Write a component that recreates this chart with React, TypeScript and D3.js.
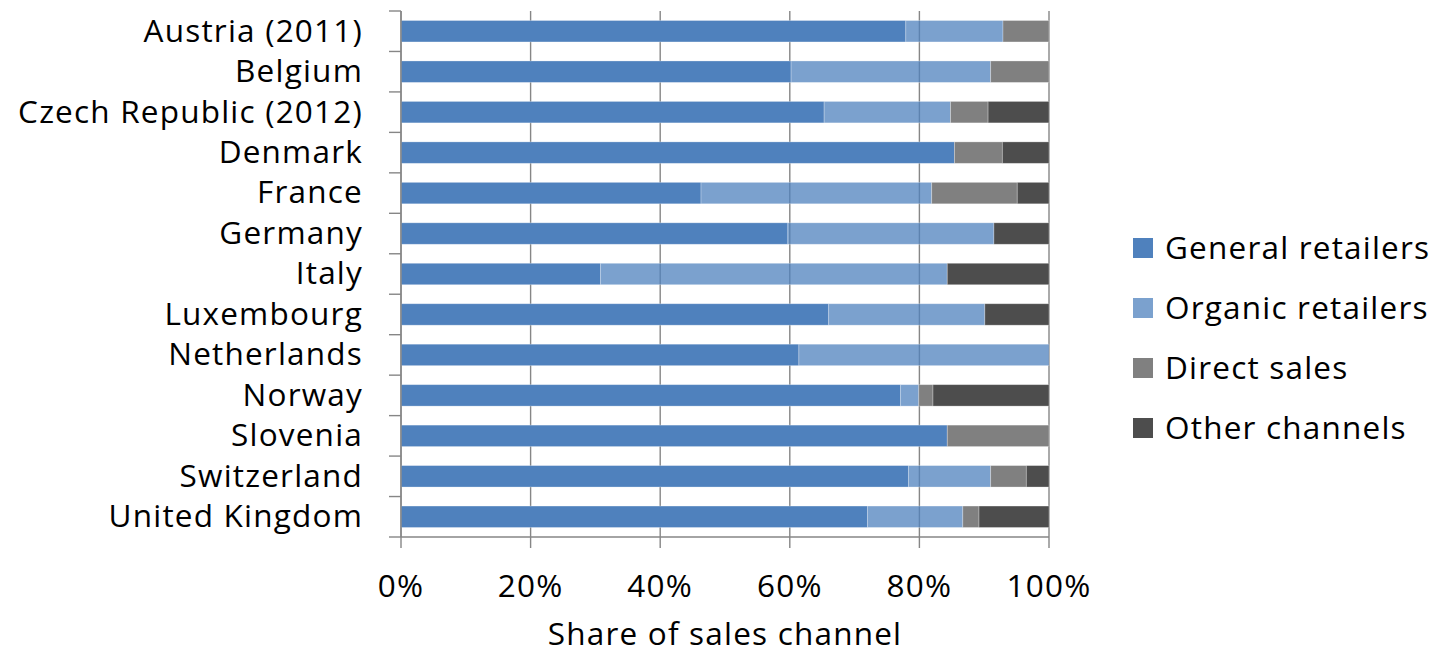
import React from 'react';
import * as d3 from 'd3';

const countries = [
  'Austria (2011)', 'Belgium', 'Czech Republic (2012)', 'Denmark', 'France', 'Germany', 'Italy',
  'Luxembourg', 'Netherlands', 'Norway', 'Slovenia', 'Switzerland', 'United Kingdom',
];
const generalRetailers = [77.9, 60.2, 65.3, 85.4, 46.3, 59.7, 30.8, 66.0, 61.4, 77.1, 84.3, 78.3, 72.0];
const organicRetailers = [15.0, 30.8, 19.5, 0, 35.6, 31.8, 53.5, 24.1, 38.6, 2.8, 0, 12.7, 14.7];
const directSales = [7.1, 9.0, 5.8, 7.4, 13.2, 0, 0, 0, 0, 2.2, 15.7, 5.5, 2.5];
const otherChannels = [0, 0, 9.4, 7.2, 4.9, 8.5, 15.7, 9.9, 0, 17.9, 0, 3.5, 10.8];
const xTicks = [0, 20, 40, 60, 80, 100];

const seriesNames = ['General retailers', 'Organic retailers', 'Direct sales', 'Other channels'];
const seriesFill = ['#4F81BD', '#4F81BD', '#808080', '#4D4D4D'];
const seriesOpacity = [1, 0.75, 1, 1];

const W = 1432;
const H = 655;
const FONT = '"Open Sans", Lato, sans-serif';
const FS = 31.5;
const LS = 1.2;

const App: React.FC = () => {
  const left = 401;
  const right = 1049;
  const top = 11;
  const bottom = 537;

  const x = d3.scaleLinear().domain([0, 100]).range([left, right]);
  const y = d3.scaleBand<string>().domain(countries).range([top, bottom]).paddingInner(0.47).paddingOuter(0.235);
  const band = d3.scaleBand<string>().domain(countries).range([top, bottom]);

  const rows = countries.map((c, i) => ({
    country: c,
    s0: generalRetailers[i],
    s1: organicRetailers[i],
    s2: directSales[i],
    s3: otherChannels[i],
  }));
  const stack = d3.stack<typeof rows[number]>().keys(['s0', 's1', 's2', 's3']);
  const layers = stack(rows);

  const gridColor = '#868686';

  return (
    <div style={{ position: 'absolute', left: 0, top: 0 }}>
      <svg width={W} height={H} style={{ display: 'block', background: '#fff' }}>
        {/* vertical gridlines */}
        {xTicks.map(t => (
          <line key={'g' + t} x1={x(t)} x2={x(t)} y1={top} y2={bottom + 11}
            stroke={gridColor} strokeWidth={1.4} />
        ))}
        {/* bars */}
        {layers.map((layer, li) => (
          <g key={li} fill={seriesFill[li]} fillOpacity={seriesOpacity[li]}>
            {layer.map((d, i) => (d[1] - d[0] > 0 ? (
              <rect key={i}
                x={x(d[0])} width={x(d[1]) - x(d[0])}
                y={y(countries[i])!} height={y.bandwidth()}
                stroke="#ffffff" strokeOpacity={0.35} strokeWidth={0.8} />
            ) : null))}
          </g>
        ))}
        {/* left axis */}
        <line x1={left} x2={left} y1={top} y2={bottom} stroke={gridColor} strokeWidth={1.4} />
        {countries.map(c => (
          <line key={'t' + c} x1={left - 12} x2={left} y1={band(c)!} y2={band(c)!}
            stroke={gridColor} strokeWidth={1.4} />
        ))}
        <line x1={left - 12} x2={left} y1={bottom} y2={bottom} stroke={gridColor} strokeWidth={1.4} />
        {/* bottom axis */}
        <line x1={left} x2={right} y1={bottom} y2={bottom} stroke={gridColor} strokeWidth={1.4} />
        {/* category labels */}
        {countries.map(c => (
          <text key={'l' + c} x={363} y={y(c)! + y.bandwidth() / 2} dy="0.33em"
            textAnchor="end" fontFamily={FONT} fontSize={FS} letterSpacing={LS} fill="#000">{c}</text>
        ))}
        {/* x tick labels */}
        {xTicks.map(t => (
          <text key={'x' + t} x={x(t)} y={597} textAnchor="middle"
            fontFamily={FONT} fontSize={FS} letterSpacing={LS} fill="#000">{t}%</text>
        ))}
        <text x={(left + right) / 2} y={645} textAnchor="middle" fontFamily={FONT} fontSize={FS}
          letterSpacing={LS} fill="#000">
          Share of sales channel
        </text>
        {/* legend */}
        {seriesNames.map((n, i) => (
          <g key={n} transform={`translate(1133, ${248 + i * 60})`}>
            <rect x={0} y={-10} width={20} height={20} fill={seriesFill[i]} fillOpacity={seriesOpacity[i]} />
            <text x={32} y={11} fontFamily={FONT} fontSize={FS} letterSpacing={LS} fill="#000">{n}</text>
          </g>
        ))}
      </svg>
    </div>
  );
};

export default App;
